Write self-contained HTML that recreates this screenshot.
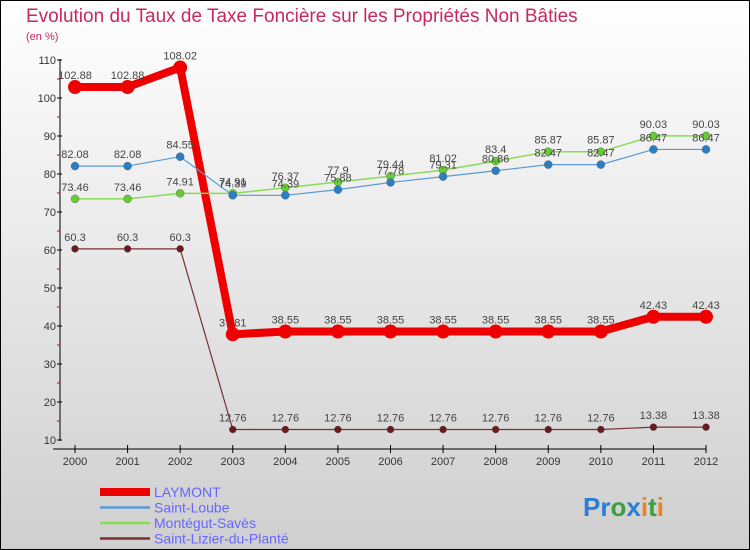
<!DOCTYPE html>
<html><head><meta charset="utf-8"><style>
body{margin:0;width:750px;height:550px;overflow:hidden}
svg{display:block;font-family:"Liberation Sans",sans-serif}
</style></head><body>
<svg id="chart" width="750" height="550" viewBox="0 0 750 550">
<defs><linearGradient id="bg" x1="0" y1="0" x2="0" y2="1"><stop offset="0" stop-color="#ffffff"/><stop offset="1" stop-color="#cfcfcf"/></linearGradient></defs>
<rect x="0.5" y="0.5" width="749" height="549" fill="url(#bg)" stroke="#000"/>
<text x="26" y="22" font-size="19" fill="#c8285a">Evolution du Taux de Taxe Foncière sur les Propriétés Non Bâties</text>
<text x="26" y="40" font-size="11" fill="#c8285a">(en %)</text>
<g id="axes"></g>
<g id="series"></g>
<g id="legend"></g>
<text x="583" y="516" font-size="26" font-weight="bold"><tspan fill="#2a7fd4">Pr</tspan><tspan fill="#3aa040">o</tspan><tspan fill="#2a7fd4">x</tspan><tspan fill="#f08020">i</tspan><tspan fill="#3aa040">t</tspan><tspan fill="#f08020">i</tspan></text>
</svg>
<script>
const years=[2000,2001,2002,2003,2004,2005,2006,2007,2008,2009,2010,2011,2012];
const yTicks=[10,20,30,40,50,60,70,80,90,100,110];
const laymont=[102.88,102.88,108.02,37.81,38.55,38.55,38.55,38.55,38.55,38.55,38.55,42.43,42.43];
const saintLoube=[82.08,82.08,84.55,74.39,74.39,75.88,77.78,79.31,80.86,82.47,82.47,86.47,86.47];
const montegut=[73.46,73.46,74.91,74.91,76.37,77.9,79.44,81.02,83.4,85.87,85.87,90.03,90.03];
const saintLizier=[60.3,60.3,60.3,12.76,12.76,12.76,12.76,12.76,12.76,12.76,12.76,13.38,13.38];
const NS="http://www.w3.org/2000/svg";
const xS=i=>75+i*(706-75)/(years.length-1);
const yS=v=>440-(v-10)*3.8;
function mk(t,a,p){const e=document.createElementNS(NS,t);for(const k in a)e.setAttribute(k,a[k]);p.appendChild(e);return e;}
const ax=document.getElementById('axes');
let e=mk('line',{x1:60,y1:59,x2:60,y2:441,stroke:'#000'},ax);


e=mk('line',{x1:53,y1:449,x2:706,y2:449,stroke:'#000'},ax);


yTicks.forEach(v=>{
 mk('line',{x1:57,y1:yS(v),x2:62,y2:yS(v),stroke:'#000'},ax);
 if(v<110)mk('line',{x1:57,y1:yS(v+5),x2:60,y2:yS(v+5),stroke:'#d00'},ax);
 const t=mk('text',{x:56,y:yS(v)+4,'font-size':11,fill:'#333','text-anchor':'end'},ax);t.textContent=v;
 
 
});
years.forEach((y,i)=>{
 mk('line',{x1:xS(i),y1:445,x2:xS(i),y2:453,stroke:'#000'},ax);
 const t=mk('text',{x:xS(i),y:465,'font-size':11,fill:'#333','text-anchor':'middle'},ax);t.textContent=y;
 
 
});
const S=[
 {n:'laymont',d:laymont,c:'#ee0000',w:8,r:7,dot:'#ee0000',lab:'LAYMONT'},
 {n:'saint-lizier',d:saintLizier,c:'#7a3030',w:1.2,r:3.5,dot:'#6a1a1a',lab:'Saint-Lizier-du-Planté'},
 {n:'montegut',d:montegut,c:'#88dd55',w:1.5,r:4,dot:'#66cc33',lab:'Montégut-Savès'},
 {n:'saint-loube',d:saintLoube,c:'#5a9ad4',w:1.2,r:4,dot:'#2a7fc4',lab:'Saint-Loube'}
];
const sg=document.getElementById('series');
S.forEach(s=>{
 const g=mk('g',{},sg);
 
 
 const p=mk('polyline',{points:s.d.map((v,i)=>xS(i)+','+yS(v)).join(' '),fill:'none',stroke:s.c,'stroke-width':s.w,'stroke-linejoin':'round'},g);
 
 
 s.d.forEach((v,i)=>{
  const c=mk('circle',{cx:xS(i),cy:yS(v),r:s.r,fill:s.dot,stroke:s.n=='laymont'?'none':'#555','stroke-width':0.4},g);
  
  
  const t=mk('text',{x:xS(i),y:yS(v)-8,'font-size':11,fill:'#444','text-anchor':'middle'},g);
  t.textContent=String(v);
  
  
 });
});
const lg=document.getElementById('legend');
const order=[S[0],S[3],S[2],S[1]];
order.forEach((s,k)=>{
 const y=492+k*15.5;
 const l=mk('line',{x1:100,y1:y,x2:150,y2:y,stroke:s.c,'stroke-width':s.n=='laymont'?8:2.5},lg);
 
 
 const t=mk('text',{x:154,y:y+5,'font-size':14,fill:'#6666ff'},lg);
 t.textContent=s.lab;
 
 
});
</script>
</body></html>
